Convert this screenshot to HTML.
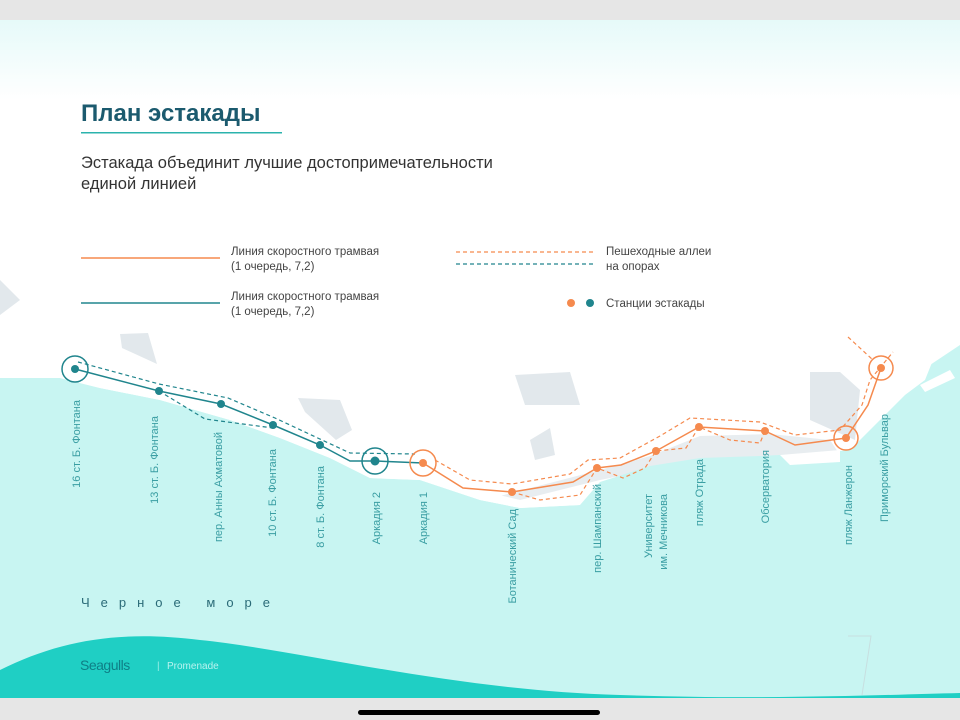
<!DOCTYPE html><html><head><meta charset="utf-8"><style>
body{margin:0;width:960px;height:720px;overflow:hidden;font-family:"Liberation Sans",sans-serif;background:#fff}
</style></head><body>
<svg width="960" height="720" viewBox="0 0 960 720" xmlns="http://www.w3.org/2000/svg" style="position:absolute;left:0;top:0">
<defs><linearGradient id="tg" x1="0" y1="0" x2="0" y2="1"><stop offset="0" stop-color="#e6faf9"/><stop offset="1" stop-color="#ffffff"/></linearGradient></defs>
<rect width="960" height="720" fill="#fff"/>
<rect y="20" width="960" height="80" fill="url(#tg)"/>
<rect y="0" width="960" height="20" fill="#e6e6e6"/>
<polygon points="120,334 148,333 157,364 122,348" fill="#e2e8ec"/>
<polygon points="298,398 340,400 352,430 336,440 305,412" fill="#e2e8ec"/>
<polygon points="515,375 570,372 580,405 525,405" fill="#e2e8ec"/>
<polygon points="530,440 550,428 555,455 535,460" fill="#e2e8ec"/>
<polygon points="810,372 840,372 860,390 855,440 810,420" fill="#e2e8ec"/>
<polygon points="0,280 20,300 0,315" fill="#e2e8ec"/>
<polygon points="500,496 600,470 650,456 700,436 770,434 830,440 840,455 700,460 600,480 520,500" fill="#e8edf0"/>
<path d="M0,378 L60,378 100,388 160,400 230,420 280,438 330,458 370,478 420,480 480,500 520,508 580,505 600,482 650,466 700,458 760,456 820,453 850,450 880,420 905,395 925,380 935,355 960,340 L960,700 L0,700 Z" fill="#c8f5f2"/>
<polygon points="910,350 940,335 960,330 960,345 930,365" fill="#fff"/>
<polygon points="920,385 950,370 955,378 925,392" fill="#fff"/>
<polygon points="780,455 840,450 840,462 790,465" fill="#fff"/>
<path d="M60,378 100,388 160,400 230,420 280,438 330,458 370,478 420,480 480,500 520,508 580,505 L575,500 520,500 470,488 420,470 375,466 330,448 270,428 220,410 160,396 100,382 Z" fill="#fff"/>
<path d="M0,670 C60,640 120,630 200,640 C300,650 450,690 620,695 C760,700 880,695 960,693 L960,700 L0,700 Z" fill="#1fcfc4"/>
<rect y="698" width="960" height="22" fill="#e6e6e6"/>
<rect x="358" y="710" width="242" height="5" rx="2.5" fill="#000"/>
<polyline points="848,636 871,636 862,695" fill="none" stroke="#c7dfe0" stroke-width="1"/>
<text x="81" y="121" font-size="24" font-weight="bold" fill="#1b5a6e">План эстакады</text>
<rect x="81" y="132" width="201" height="1.5" fill="#2bb3ad"/>
<text x="81" y="168" font-size="16.5" fill="#333">Эстакада объединит лучшие достопримечательности</text>
<text x="81" y="189" font-size="16.5" fill="#333">единой линией</text>
<line x1="81" y1="258" x2="220" y2="258" stroke="#f58a4e" stroke-width="1.5"/>
<text x="231" y="255" font-size="11.5" fill="#444">Линия скоростного трамвая</text>
<text x="231" y="270" font-size="11.5" fill="#444">(1 очередь, 7,2)</text>
<line x1="81" y1="303" x2="220" y2="303" stroke="#20858d" stroke-width="1.5"/>
<text x="231" y="300" font-size="11.5" fill="#444">Линия скоростного трамвая</text>
<text x="231" y="315" font-size="11.5" fill="#444">(1 очередь, 7,2)</text>
<line x1="456" y1="252" x2="595" y2="252" stroke="#f58a4e" stroke-width="1.2" stroke-dasharray="4,3"/>
<line x1="456" y1="264" x2="595" y2="264" stroke="#20858d" stroke-width="1.2" stroke-dasharray="4,3"/>
<text x="606" y="255" font-size="11.5" fill="#444">Пешеходные аллеи</text>
<text x="606" y="270" font-size="11.5" fill="#444">на опорах</text>
<circle cx="571" cy="303" r="4" fill="#f58a4e"/><circle cx="590" cy="303" r="4" fill="#20858d"/>
<text x="606" y="307" font-size="11.5" fill="#444">Станции эстакады</text>
<g fill="none" stroke="#20858d">
<polyline stroke-width="1.5" points="75,369 159,391 221,404 273,425 320,445 350,461 375,461 423,463"/>
<polyline stroke-width="1.2" stroke-dasharray="4,3" points="78,362 159,384 228,398 275,418 322,440 350,453 415,454"/>
<polyline stroke-width="1.2" stroke-dasharray="4,3" points="159,391 205,419 273,428"/>
<circle cx="75" cy="369" r="13" stroke-width="1.5"/>
<circle cx="375" cy="461" r="13" stroke-width="1.5"/>
</g>
<g fill="#20858d"><circle cx="75" cy="369" r="4"/><circle cx="159" cy="391" r="4"/><circle cx="221" cy="404" r="4"/><circle cx="273" cy="425" r="4"/><circle cx="320" cy="445" r="4"/><circle cx="375" cy="461" r="4.5"/></g>
<g fill="none" stroke="#f58a4e">
<polyline stroke-width="1.5" points="423,463 463,488 512,492 573,482 597,468 621,465 656,451 699,427 765,431 795,445 846,438 868,405 881,368"/>
<polyline stroke-width="1.2" stroke-dasharray="4,3" points="435,460 470,480 512,484 570,474 588,460 620,458 660,436 690,418 760,422 795,435 840,430 862,405 870,380 893,352"/>
<polyline stroke-width="1.2" stroke-dasharray="4,3" points="512,492 540,500 580,495 597,468 623,478 645,468 656,451 686,448 699,427 730,440 760,443 765,431"/>
<polyline stroke-width="1.2" stroke-dasharray="4,3" points="848,337 873,360"/>
<circle cx="423" cy="463" r="13" stroke-width="1.5"/>
<circle cx="846" cy="438" r="12" stroke-width="1.5"/>
<circle cx="881" cy="368" r="12" stroke-width="1.5"/>
</g>
<g fill="#f58a4e"><circle cx="423" cy="463" r="4"/><circle cx="512" cy="492" r="4"/><circle cx="597" cy="468" r="4"/><circle cx="656" cy="451" r="4"/><circle cx="699" cy="427" r="4"/><circle cx="765" cy="431" r="4"/><circle cx="846" cy="438" r="4"/><circle cx="881" cy="368" r="4"/></g>
<g font-size="11" fill="#3a9ea3" text-anchor="end">
<text transform="translate(80,400) rotate(-90)">16 ст. Б. Фонтана</text>
<text transform="translate(158,416) rotate(-90)">13 ст. Б. Фонтана</text>
<text transform="translate(222,432) rotate(-90)">пер. Анны Ахматовой</text>
<text transform="translate(276,449) rotate(-90)">10 ст. Б. Фонтана</text>
<text transform="translate(324,466) rotate(-90)">8 ст. Б. Фонтана</text>
<text transform="translate(380,492) rotate(-90)">Аркадия 2</text>
<text transform="translate(427,492) rotate(-90)">Аркадия 1</text>
<text transform="translate(516,509) rotate(-90)">Ботанический Сад</text>
<text transform="translate(601,484) rotate(-90)">пер. Шампанский</text>
<text transform="translate(652,494) rotate(-90)">Университет</text>
<text transform="translate(667,494) rotate(-90)">им. Мечникова</text>
<text transform="translate(703,459) rotate(-90)">пляж Отрада</text>
<text transform="translate(769,450) rotate(-90)">Обсерватория</text>
<text transform="translate(852,465) rotate(-90)">пляж Ланжерон</text>
<text transform="translate(888,414) rotate(-90)">Приморский Бульвар</text>
</g>
<text x="81" y="607" font-size="13" fill="#2b6b78" letter-spacing="11">Черное море</text>
<text x="80" y="670" font-size="14" fill="#0e7f86" letter-spacing="-0.5">Seagulls</text>
<text x="157" y="669" font-size="10" fill="#9aeee8">|</text>
<text x="167" y="669" font-size="10" fill="#b8f3ef">Promenade</text>
</svg>
</body></html>
